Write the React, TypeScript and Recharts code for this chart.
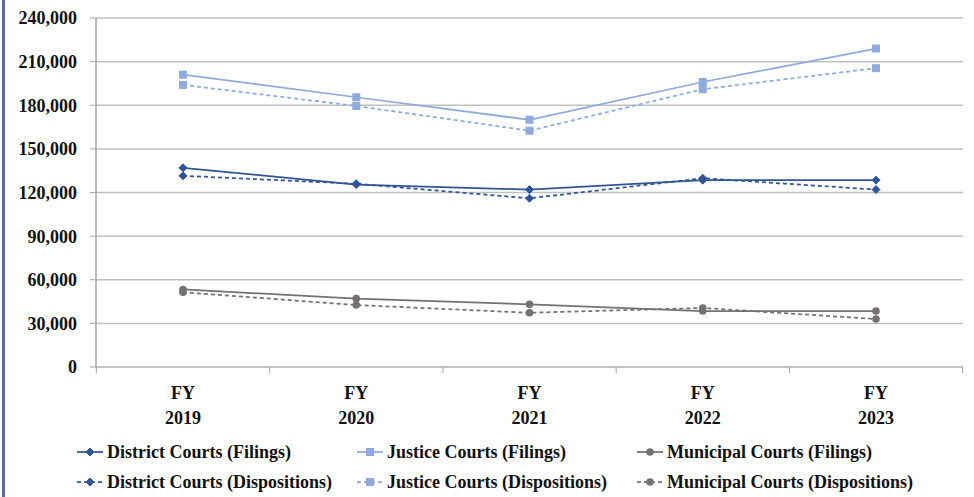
import React from 'react';
import { LineChart, Line, XAxis, YAxis, CartesianGrid, Legend } from 'recharts';

const categories = ['2019', '2020', '2021', '2022', '2023'];
const districtFilings = [137000, 125500, 122000, 128500, 128500];
const districtDispositions = [131500, 126000, 116000, 129800, 122000];
const justiceFilings = [201000, 185500, 170000, 196000, 219000];
const justiceDispositions = [194000, 179500, 162500, 191000, 205500];
const municipalFilings = [53300, 47100, 43100, 38500, 38500];
const municipalDispositions = [51400, 42600, 37300, 40600, 33000];
const yTicks = [0, 30000, 60000, 90000, 120000, 150000, 180000, 210000, 240000];

const BLUE = '#2f5597';
const LIGHT = '#8faadc';
const GRAY = '#767171';
const FONT = '"Liberation Serif", "Times New Roman", serif';

type Shape = 'diamond' | 'square' | 'circle';

const series: { key: string; name: string; color: string; shape: Shape; dashed: boolean }[] = [
  { key: 'df', name: 'District Courts (Filings)', color: BLUE, shape: 'diamond', dashed: false },
  { key: 'jf', name: 'Justice Courts (Filings)', color: LIGHT, shape: 'square', dashed: false },
  { key: 'mf', name: 'Municipal Courts (Filings)', color: GRAY, shape: 'circle', dashed: false },
  { key: 'dd', name: 'District Courts (Dispositions)', color: BLUE, shape: 'diamond', dashed: true },
  { key: 'jd', name: 'Justice Courts (Dispositions)', color: LIGHT, shape: 'square', dashed: true },
  { key: 'md', name: 'Municipal Courts (Dispositions)', color: GRAY, shape: 'circle', dashed: true },
];

const data = categories.map((c, i) => ({
  year: c,
  df: districtFilings[i],
  dd: districtDispositions[i],
  jf: justiceFilings[i],
  jd: justiceDispositions[i],
  mf: municipalFilings[i],
  md: municipalDispositions[i],
}));

function marker(shape: Shape, color: string, cx: number, cy: number, key?: string | number) {
  if (shape === 'diamond') {
    return <polygon key={key} points={`${cx},${cy - 4} ${cx + 4},${cy} ${cx},${cy + 4} ${cx - 4},${cy}`} fill={color} stroke={color} strokeWidth={1} />;
  }
  if (shape === 'square') {
    return <rect key={key} x={cx - 4} y={cy - 4} width={8} height={8} fill={color} stroke="none" />;
  }
  return <circle key={key} cx={cx} cy={cy} r={3.8} fill={color} stroke="none" />;
}

const makeDot = (shape: Shape, color: string) => (props: any) => {
  const { cx, cy, index } = props;
  if (cx == null || cy == null) return <g key={`e${index}`} />;
  return marker(shape, color, cx, cy, `d${index}`);
};

const XTick = (props: any) => {
  const { x, y, payload, width, index } = props;
  const half = width / (2 * categories.length);
  return (
    <g>
      {index === 0 && <line x1={x - half} x2={x - half} y1={y - 8} y2={y - 2} stroke="#a6a6a6" />}
      <line x1={x + half} x2={x + half} y1={y - 8} y2={y - 2} stroke="#a6a6a6" />
      <text x={x} y={y + 24} textAnchor="middle" fill="#111" fontSize={18} fontWeight="bold" fontFamily={FONT}>FY</text>
      <text x={x} y={y + 49} textAnchor="middle" fill="#111" fontSize={18} fontWeight="bold" fontFamily={FONT}>{payload.value}</text>
    </g>
  );
};

const LegendContent = () => (
  <div style={{ position: 'relative', width: 974, height: 60 }}>
    {series.map((s, i) => {
      const col = i % 3;
      const row = Math.floor(i / 3);
      return (
        <div
          key={s.key}
          style={{
            position: 'absolute',
            left: 77 + col * 280,
            top: row * 30,
            height: 30,
            display: 'flex',
            alignItems: 'center',
            whiteSpace: 'nowrap',
          }}
        >
          <svg width={26} height={12} style={{ marginRight: 4 }}>
            <line x1={0} x2={26} y1={6} y2={6} stroke={s.color} strokeWidth={1.75} strokeDasharray={s.dashed ? '4 3' : undefined} />
            {marker(s.shape, s.color, 13, 6)}
          </svg>
          <span style={{ fontSize: 18, fontWeight: 'bold', color: '#111', fontFamily: FONT, lineHeight: '30px' }}>{s.name}</span>
        </div>
      );
    })}
  </div>
);

export default function App() {
  return (
    <div
      style={{
        position: 'absolute',
        left: 0,
        top: 0,
        width: 974,
        height: 497,
        background: '#fff',
        fontFamily: FONT,
      }}
    >
      <div style={{ position: 'absolute', left: 2, top: 0, width: 3, height: 497, background: '#5b6e96' }} />
      <LineChart width={974} height={497} data={data} margin={{ top: 18, right: 11, left: 0, bottom: 0 }}>
        <CartesianGrid vertical={false} stroke="#c0c0c0" strokeWidth={1.5} />
        <XAxis
          dataKey="year"
          height={70}
          padding={{ left: 87, right: 87 }}
          tickLine={false}
          axisLine={{ stroke: '#bfbfbf', strokeWidth: 1.5 }}
          tick={<XTick />}
          interval={0}
        />
        <YAxis
          width={96}
          domain={[0, 240000]}
          ticks={yTicks}
          interval={0}
          tickSize={6}
          tickMargin={13}
          axisLine={{ stroke: '#a6a6a6', strokeWidth: 1.5 }}
          tickLine={{ stroke: '#a6a6a6' }}
          tick={{ fill: '#111', fontSize: 18, fontWeight: 'bold', fontFamily: FONT }}
          tickFormatter={(v: number) => v.toLocaleString('en-US')}
        />
        <Legend
          verticalAlign="bottom"
          height={60}
          content={<LegendContent />}
          wrapperStyle={{ left: 0, bottom: 0, width: 974, height: 60 }}
        />
        {series.map((s) => (
          <Line
            key={s.key}
            dataKey={s.key}
            name={s.name}
            stroke={s.color}
            strokeWidth={1.75}
            strokeDasharray={s.dashed ? '4 3' : undefined}
            dot={makeDot(s.shape, s.color)}
            activeDot={false}
            isAnimationActive={false}
          />
        ))}
      </LineChart>
    </div>
  );
}
